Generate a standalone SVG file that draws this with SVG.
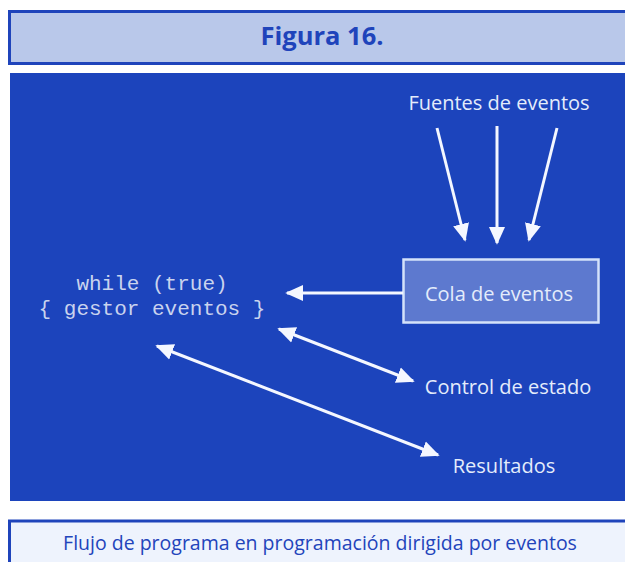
<svg xmlns="http://www.w3.org/2000/svg" width="625" height="562" viewBox="0 0 625 562">
<defs>
<style>
.lbl{font-family:"Open Sans","Lato","Liberation Sans",sans-serif;fill:#e4ecfb;font-size:20px;text-anchor:middle}
.code{font-family:"Liberation Mono","DejaVu Sans Mono",monospace;fill:#c9d3ee;font-size:21px;text-anchor:middle}
.ln{stroke:#f4f7ff;stroke-width:3;fill:none}
</style>
<marker id="ah" viewBox="0 0 10 10" refX="9" refY="5" markerWidth="6" markerHeight="6" markerUnits="strokeWidth" orient="auto-start-reverse">
<path d="M0,0.5 L10,5 L0,9.5 z" fill="#f4f7ff"/>
</marker>
</defs>
<rect width="625" height="562" fill="#ffffff"/>
<g id="header">
<rect x="9.5" y="11.5" width="620" height="52" fill="#b9c8ea" stroke="#1f44bb" stroke-width="3"/>
<text x="322" y="45" font-family="'Open Sans',Lato,'Liberation Sans',sans-serif" font-weight="bold" font-size="25.5" fill="#1f44bb" text-anchor="middle">Figura 16.</text>
</g>
<rect id="panel" x="10" y="73" width="615" height="428" fill="#1c44bc"/>
<g id="fuentes"><text class="lbl" x="499" y="110">Fuentes de eventos</text></g>
<g id="cola">
<rect x="403.5" y="259.5" width="195" height="63" fill="#5d79cf" stroke="#d4e2fa" stroke-width="2.5"/>
<text class="lbl" x="499" y="301">Cola de eventos</text>
</g>
<g id="loop">
<text class="code" x="152" y="290">while (true)</text>
<text class="code" x="152" y="315">{ gestor eventos }</text>
</g>
<g id="control"><text class="lbl" x="508" y="394">Control de estado</text></g>
<g id="resultados"><text class="lbl" x="504" y="473">Resultados</text></g>
<g id="connectors">
<line class="ln" x1="437" y1="128" x2="465" y2="240" marker-end="url(#ah)"/>
<line class="ln" x1="497" y1="126" x2="497" y2="243" marker-end="url(#ah)"/>
<line class="ln" x1="557" y1="128" x2="529" y2="240" marker-end="url(#ah)"/>
<line class="ln" x1="403" y1="293" x2="287" y2="293" marker-end="url(#ah)"/>
<line class="ln" x1="279" y1="329" x2="413" y2="381" marker-start="url(#ah)" marker-end="url(#ah)"/>
<line class="ln" x1="157" y1="346" x2="438" y2="455" marker-start="url(#ah)" marker-end="url(#ah)"/>
</g>
<g id="caption">
<rect x="9.5" y="521" width="620" height="45" fill="#eef3fd"/>
<line x1="8" y1="521" x2="625" y2="521" stroke="#1f44bb" stroke-width="3"/>
<line x1="9.5" y1="521" x2="9.5" y2="562" stroke="#1f44bb" stroke-width="3"/>
<text x="320" y="550" font-family="'Open Sans',Lato,'Liberation Sans',sans-serif" font-size="19.5" fill="#2244bb" text-anchor="middle">Flujo de programa en programación dirigida por eventos</text>
</g>
</svg>
